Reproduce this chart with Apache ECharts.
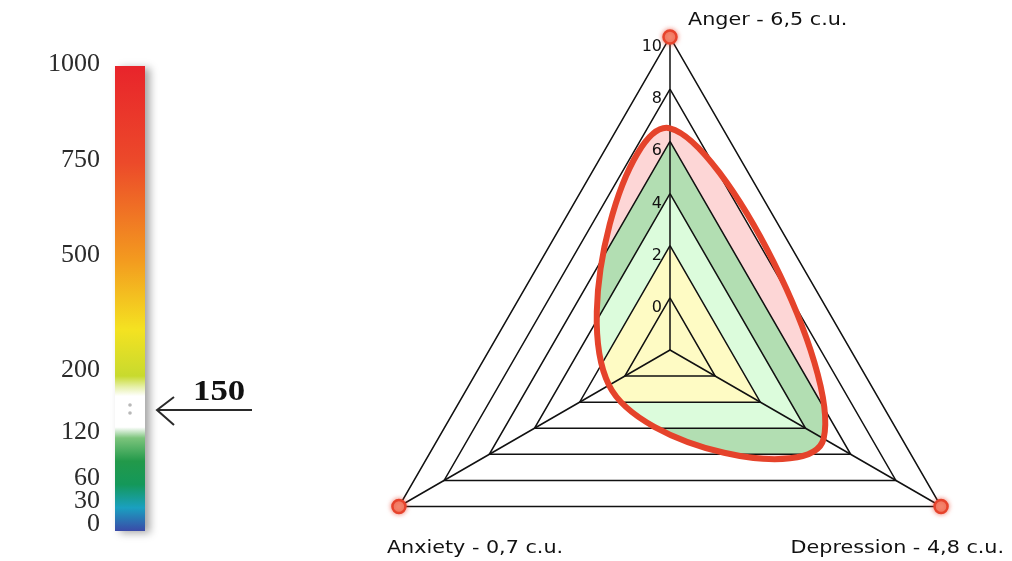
<!DOCTYPE html>
<html>
<head>
<meta charset="utf-8">
<script src="https://cdn.jsdelivr.net/npm/echarts@6/dist/echarts.min.js"></script>
<style>
  html, body { margin: 0; padding: 0; background: #fff; }
  #chart { width: 1012px; height: 561px; }
</style>
</head>
<body>
<div id="chart"></div>
<script>
// left colour scale
const scaleTicks = [0, 30, 60, 120, 200, 500, 750, 1000]
const pointerValue = 150
const barStops = [1000, 750, 500, 320, 200, 186, 174, 134, 120, 90, 60, 30, 0]
const barColors = ['#e8242b', '#ec4a2a', '#f39a1f', '#f4e221', '#c8da2e', '#e6f0a8', '#ffffff',
  '#ffffff', '#7cc47c', '#22994a', '#14985a', '#1aa0c0', '#3a4aa8']

// radar
const indicators = ['Anger', 'Anxiety', 'Depression']
const scores = [6.5, 0.7, 4.8]
const axisMin = -2
const axisMax = 10
const ringLabels = [0, 2, 4, 6, 8, 10]
const bandLimits = [8, 6, 4, 2]
const bandColors = ['#fdd6d6', '#b2deb2', '#dcfcdc', '#fefbc4']

// the scale is squeezed above 200
const BREAK = 200
const toScale = v => v <= BREAK ? v : BREAK + (v - BREAK) / 2

const angles = indicators.map((_, i) => i * 360 / indicators.length)
const SMOOTH = 0.45
const nameFont = '18px "DejaVu Sans"'
const nameOffsets = [[18, -17, 'left'], [-12, 42, 'left'], [63, 42, 'right']]

const chart = echarts.init(document.getElementById('chart'))

const curvePoints = api => scores.map((v, i) => api.coord([v, angles[i]]))

const option = {
  animation: false,
  grid: { left: 115, top: 64, width: 30, height: 460 },
  xAxis: { type: 'value', min: 0, max: 1, show: false },
  yAxis: { type: 'value', min: 0, max: toScale(scaleTicks[scaleTicks.length - 1]), show: false },
  radar: {
    center: [670, 350],
    radius: 313,
    startAngle: 90,
    splitNumber: 6,
    shape: 'polygon',
    indicator: indicators.map(name => ({ name, min: axisMin, max: axisMax })),
    axisName: { show: false },
    axisLine: { lineStyle: { color: '#111', width: 1.5 } },
    splitLine: { lineStyle: { color: '#111', width: 1.5 } },
    splitArea: { show: false },
    axisTick: { show: false },
    axisLabel: { show: false }
  },
  polar: { center: [670, 350], radius: 313 },
  angleAxis: { show: false, type: 'value', min: 0, max: 360, startAngle: 90, clockwise: false },
  radiusAxis: { show: false, type: 'value', min: axisMin, max: axisMax },
  series: [
    {
      // gradient bar
      type: 'custom',
      coordinateSystem: 'cartesian2d',
      data: [[0, toScale(scaleTicks[scaleTicks.length - 1])]],
      renderItem: (params, api) => {
        const bottom = api.coord([0, 0])
        const top = api.coord([1, api.value(1)])
        const mid = api.coord([0.5, toScale(pointerValue)])
        const stops = barStops.map((v, i) => ({
          offset: 1 - toScale(v) / api.value(1),
          color: barColors[i]
        }))
        return {
          type: 'group',
          children: [
            {
              type: 'rect',
              shape: { x: bottom[0], y: top[1] + 2, width: top[0] - bottom[0], height: bottom[1] - top[1] + 5 },
              style: {
                fill: new echarts.graphic.LinearGradient(0, 0, 0, 1, stops),
                shadowBlur: 8,
                shadowOffsetX: 5,
                shadowOffsetY: 2,
                shadowColor: 'rgba(0,0,0,0.35)'
              }
            },
            { type: 'circle', shape: { cx: mid[0], cy: mid[1] - 4, r: 1.8 }, style: { fill: '#b8b8b8' } },
            { type: 'circle', shape: { cx: mid[0], cy: mid[1] + 4, r: 1.8 }, style: { fill: '#b8b8b8' } }
          ]
        }
      }
    },
    {
      // scale tick labels
      type: 'custom',
      coordinateSystem: 'cartesian2d',
      data: scaleTicks.map(v => [0, toScale(v), v]),
      renderItem: (params, api) => {
        const p = api.coord([api.value(0), api.value(1)])
        return {
          type: 'text', x: p[0] - 15, y: p[1],
          style: { text: String(api.value(2)), font: '26px "Liberation Serif"', fill: '#2b2b2b', align: 'right', verticalAlign: 'middle' }
        }
      }
    },
    {
      // pointer arrow
      type: 'custom',
      coordinateSystem: 'cartesian2d',
      data: [[1, toScale(pointerValue), pointerValue]],
      renderItem: (params, api) => {
        const p = api.coord([api.value(0), api.value(1)])
        const y = p[1] + 1
        const tipX = p[0] + 12
        return {
          type: 'group',
          children: [
            { type: 'line', shape: { x1: tipX, y1: y, x2: p[0] + 107, y2: y }, style: { stroke: '#2a2a2a', lineWidth: 2 } },
            {
              type: 'polyline',
              shape: { points: [[tipX + 17, y - 13], [tipX, y], [tipX + 17, y + 15]] },
              style: { stroke: '#2a2a2a', lineWidth: 2, fill: null }
            },
            {
              type: 'text', x: p[0] + 48, y: y - 3, scaleX: 1.2,
              style: { text: String(api.value(2)), font: 'bold 29px "Liberation Serif"', fill: '#111', align: 'left', verticalAlign: 'bottom' }
            }
          ]
        }
      }
    },
    {
      // colour bands inside the curve
      type: 'custom',
      coordinateSystem: 'polar',
      z: -1,
      data: scores.map((v, i) => [v, angles[i]]),
      renderItem: (params, api) => {
        if (params.dataIndex !== 0) return null
        const pts = curvePoints(api)
        return {
          type: 'group',
          children: bandLimits.map((lim, k) => ({
            type: 'polygon',
            shape: { points: angles.map(a => api.coord([lim, a])) },
            style: { fill: bandColors[k] },
            clipPath: { type: 'polygon', shape: { points: pts, smooth: SMOOTH } }
          }))
        }
      }
    },
    {
      // red curve, markers and labels
      type: 'custom',
      coordinateSystem: 'polar',
      z: 5,
      data: scores.map((v, i) => [v, angles[i]]),
      renderItem: (params, api) => {
        if (params.dataIndex !== 0) return null
        const pts = curvePoints(api)
        const children = [{
          type: 'polygon',
          shape: { points: pts, smooth: SMOOTH },
          style: { fill: null, stroke: '#e5432b', lineWidth: 6 }
        }]
        angles.forEach((a, i) => {
          const v = api.coord([axisMax, a])
          children.push({
            type: 'circle',
            shape: { cx: v[0], cy: v[1], r: 6.5 },
            style: { fill: '#f58a72', stroke: '#e6432c', lineWidth: 2.5, shadowBlur: 5, shadowColor: 'rgba(230,60,40,0.6)' }
          })
          const off = nameOffsets[i]
          children.push({
            type: 'text', x: v[0] + off[0], y: v[1] + off[1], scaleX: 1.15,
            style: {
              text: indicators[i] + ' - ' + String(scores[i]).replace('.', ',') + ' c.u.',
              font: nameFont, fill: '#111', align: off[2], verticalAlign: 'middle'
            }
          })
        })
        ringLabels.forEach(r => {
          const p = api.coord([r, angles[0]])
          children.push({
            type: 'text', x: p[0] - 8, y: p[1] + 10,
            style: { text: String(r), font: '16px "DejaVu Sans"', fill: '#111', align: 'right', verticalAlign: 'middle' }
          })
        })
        return { type: 'group', children }
      }
    }
  ]
}

chart.setOption(option)
</script>
</body>
</html>
